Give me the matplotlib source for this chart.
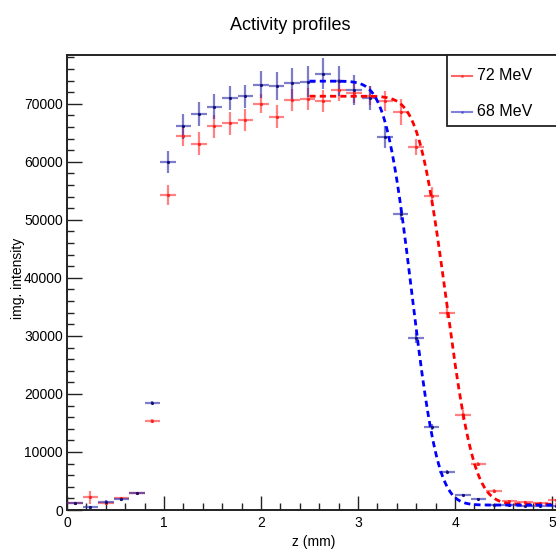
import math
import numpy as np
import matplotlib
matplotlib.use("Agg")
import matplotlib.pyplot as plt
from matplotlib.patches import Rectangle
from matplotlib.lines import Line2D
from matplotlib.ticker import MultipleLocator

plt.rcParams['font.family'] = ['Liberation Sans', 'DejaVu Sans']

# ---- data ----
z_mm = [0.08, 0.24, 0.40, 0.56, 0.72, 0.88, 1.04, 1.20, 1.36, 1.52, 1.68, 1.84,
        2.00, 2.16, 2.32, 2.48, 2.64, 2.80, 2.96, 3.12, 3.28, 3.44, 3.60, 3.76,
        3.92, 4.08, 4.24, 4.40, 4.56, 4.72, 4.88, 5.04]
z_halfwidth = 0.08

mev72 = [1200, 2200, 1150, 2000, 2850, 15300, 54300, 64400, 63100, 66100, 66600, 67200,
         70000, 67800, 70600, 70900, 70400, 72300, 71800, 71400, 70500, 68600, 62600, 54100,
         34000, 16400, 7900, 3300, 1600, 1300, 1200, 1700]
mev72_err = [250, 1100, 300, 250, 200, 300, 1700, 1600, 2000, 2000, 1900, 1900,
             1600, 2000, 1900, 1900, 1900, 1900, 1700, 1700, 1700, 2200, 1400, 1600,
             900, 900, 400, 300, 200, 200, 200, 200]

mev68 = [1150, 450, 1450, 1850, 2950, 18500, 59900, 66100, 68200, 69500, 71000, 71300,
         73300, 73100, 73500, 73800, 75200, 73900, 72300, 71000, 64300, 51000, 29600, 14300,
         6600, 2600, 1850, 900, 800, 700, 700, 700]
mev68_err = [250, 200, 250, 250, 200, 300, 1900, 2100, 2100, 2200, 2100, 2000,
             2300, 2400, 2600, 2700, 2600, 2600, 2600, 2000, 1900, 1100, 900, 500,
             300, 200, 200, 200, 200, 200, 200, 200]

# fitted fall-off (plateau, baseline, midpoint, width, start, end)
fit72 = [71300, 1000, 3.91, 0.32, 2.50, 5.10]
fit68 = [73900, 850, 3.555, 0.30, 2.50, 5.10]

labels = ["72 MeV", "68 MeV"]

# ---- figure ----
W, H = 556, 549
fig = plt.figure(figsize=(W / 100, H / 100), dpi=100)
ax = fig.add_axes([67 / W, 39 / H, 494.7 / W, 455 / H])
ax.set_xlim(0, 5.1)
ax.set_ylim(0, 78400)

def fitcurve(p):
    xs = np.linspace(p[4], p[5], 300)
    ys = [p[1] + (p[0] - p[1]) * 0.5 * math.erfc((x - p[2]) / p[3]) for x in xs]
    return xs, ys

ax.errorbar(z_mm, mev72, yerr=mev72_err, xerr=z_halfwidth, fmt='.', ms=2.5,
            color='#ff2020', ecolor=(1, 0.1, 0.1, 0.55), elinewidth=1.6, capsize=0,
            zorder=3)
ax.errorbar(z_mm, mev68, yerr=mev68_err, xerr=z_halfwidth, fmt='.', ms=2.5,
            color='#10107a', ecolor=(0.15, 0.15, 0.65, 0.6), elinewidth=1.6, capsize=0,
            zorder=3)

xs, ys = fitcurve(fit72)
ax.plot(xs, ys, color='#ff0000', lw=2.0, ls=(0, (2.2, 1.5)), zorder=4)
xs, ys = fitcurve(fit68)
ax.plot(xs, ys, color='#0000ff', lw=2.0, ls=(0, (2.2, 1.5)), zorder=4)

# ---- axes styling (ROOT-like) ----
for s in ax.spines.values():
    s.set_linewidth(1.4)
    s.set_color('#222222')
ax.xaxis.set_major_locator(MultipleLocator(1))
ax.xaxis.set_minor_locator(MultipleLocator(0.2))
ax.yaxis.set_major_locator(MultipleLocator(10000))
ax.yaxis.set_minor_locator(MultipleLocator(2000))
ax.tick_params(axis='x', which='major', direction='in', length=9.8, width=1.0,
               labelsize=10, pad=4, top=False, colors='#222222', labelcolor='black')
ax.tick_params(axis='x', which='minor', direction='in', length=4.9, width=1.0, top=False,
               colors='#222222')
ax.tick_params(axis='y', which='major', direction='in', length=10.7, width=1.0,
               labelsize=10, pad=3, right=False, colors='#222222', labelcolor='black')
ax.tick_params(axis='y', which='minor', direction='in', length=5.3, width=1.0, right=False,
               colors='#222222')

ax.set_xlabel('z (mm)', fontsize=10)
ax.xaxis.set_label_coords(0.499, -0.0697)
ax.xaxis.label.set_va('center')
ax.set_ylabel('img. intensity', fontsize=10)
ax.yaxis.set_label_coords(-0.099, 0.508)
ax.yaxis.label.set_va('center')

fig.text(290 / W, 1 - 26 / H, 'Activity profiles', ha='center', va='center', fontsize=13)

# ---- legend box ----
ax.add_patch(Rectangle((447 / W, 1 - 126 / H), 120 / W, 71 / H, transform=fig.transFigure,
                       facecolor='white', edgecolor='#222222', lw=1.3, clip_on=False,
                       zorder=10))
for i, (lab, c, yy) in enumerate([(labels[0], (1, 0.15, 0.15, 0.7), 76),
                                  (labels[1], (0.3, 0.3, 0.8, 0.7), 112)]):
    fy = 1 - yy / H
    ax.add_line(Line2D([452 / W, 472 / W], [fy, fy], transform=fig.transFigure, color=c,
                       lw=1.5, clip_on=False, zorder=11))
    ax.add_line(Line2D([462 / W], [fy], transform=fig.transFigure, color=c, marker='.',
                       ms=2, lw=0, clip_on=False, zorder=11))
    fig.text(477 / W, fy, lab, ha='left', va='center', fontsize=11.5, zorder=12)

fig.savefig('out.png', dpi=100)
